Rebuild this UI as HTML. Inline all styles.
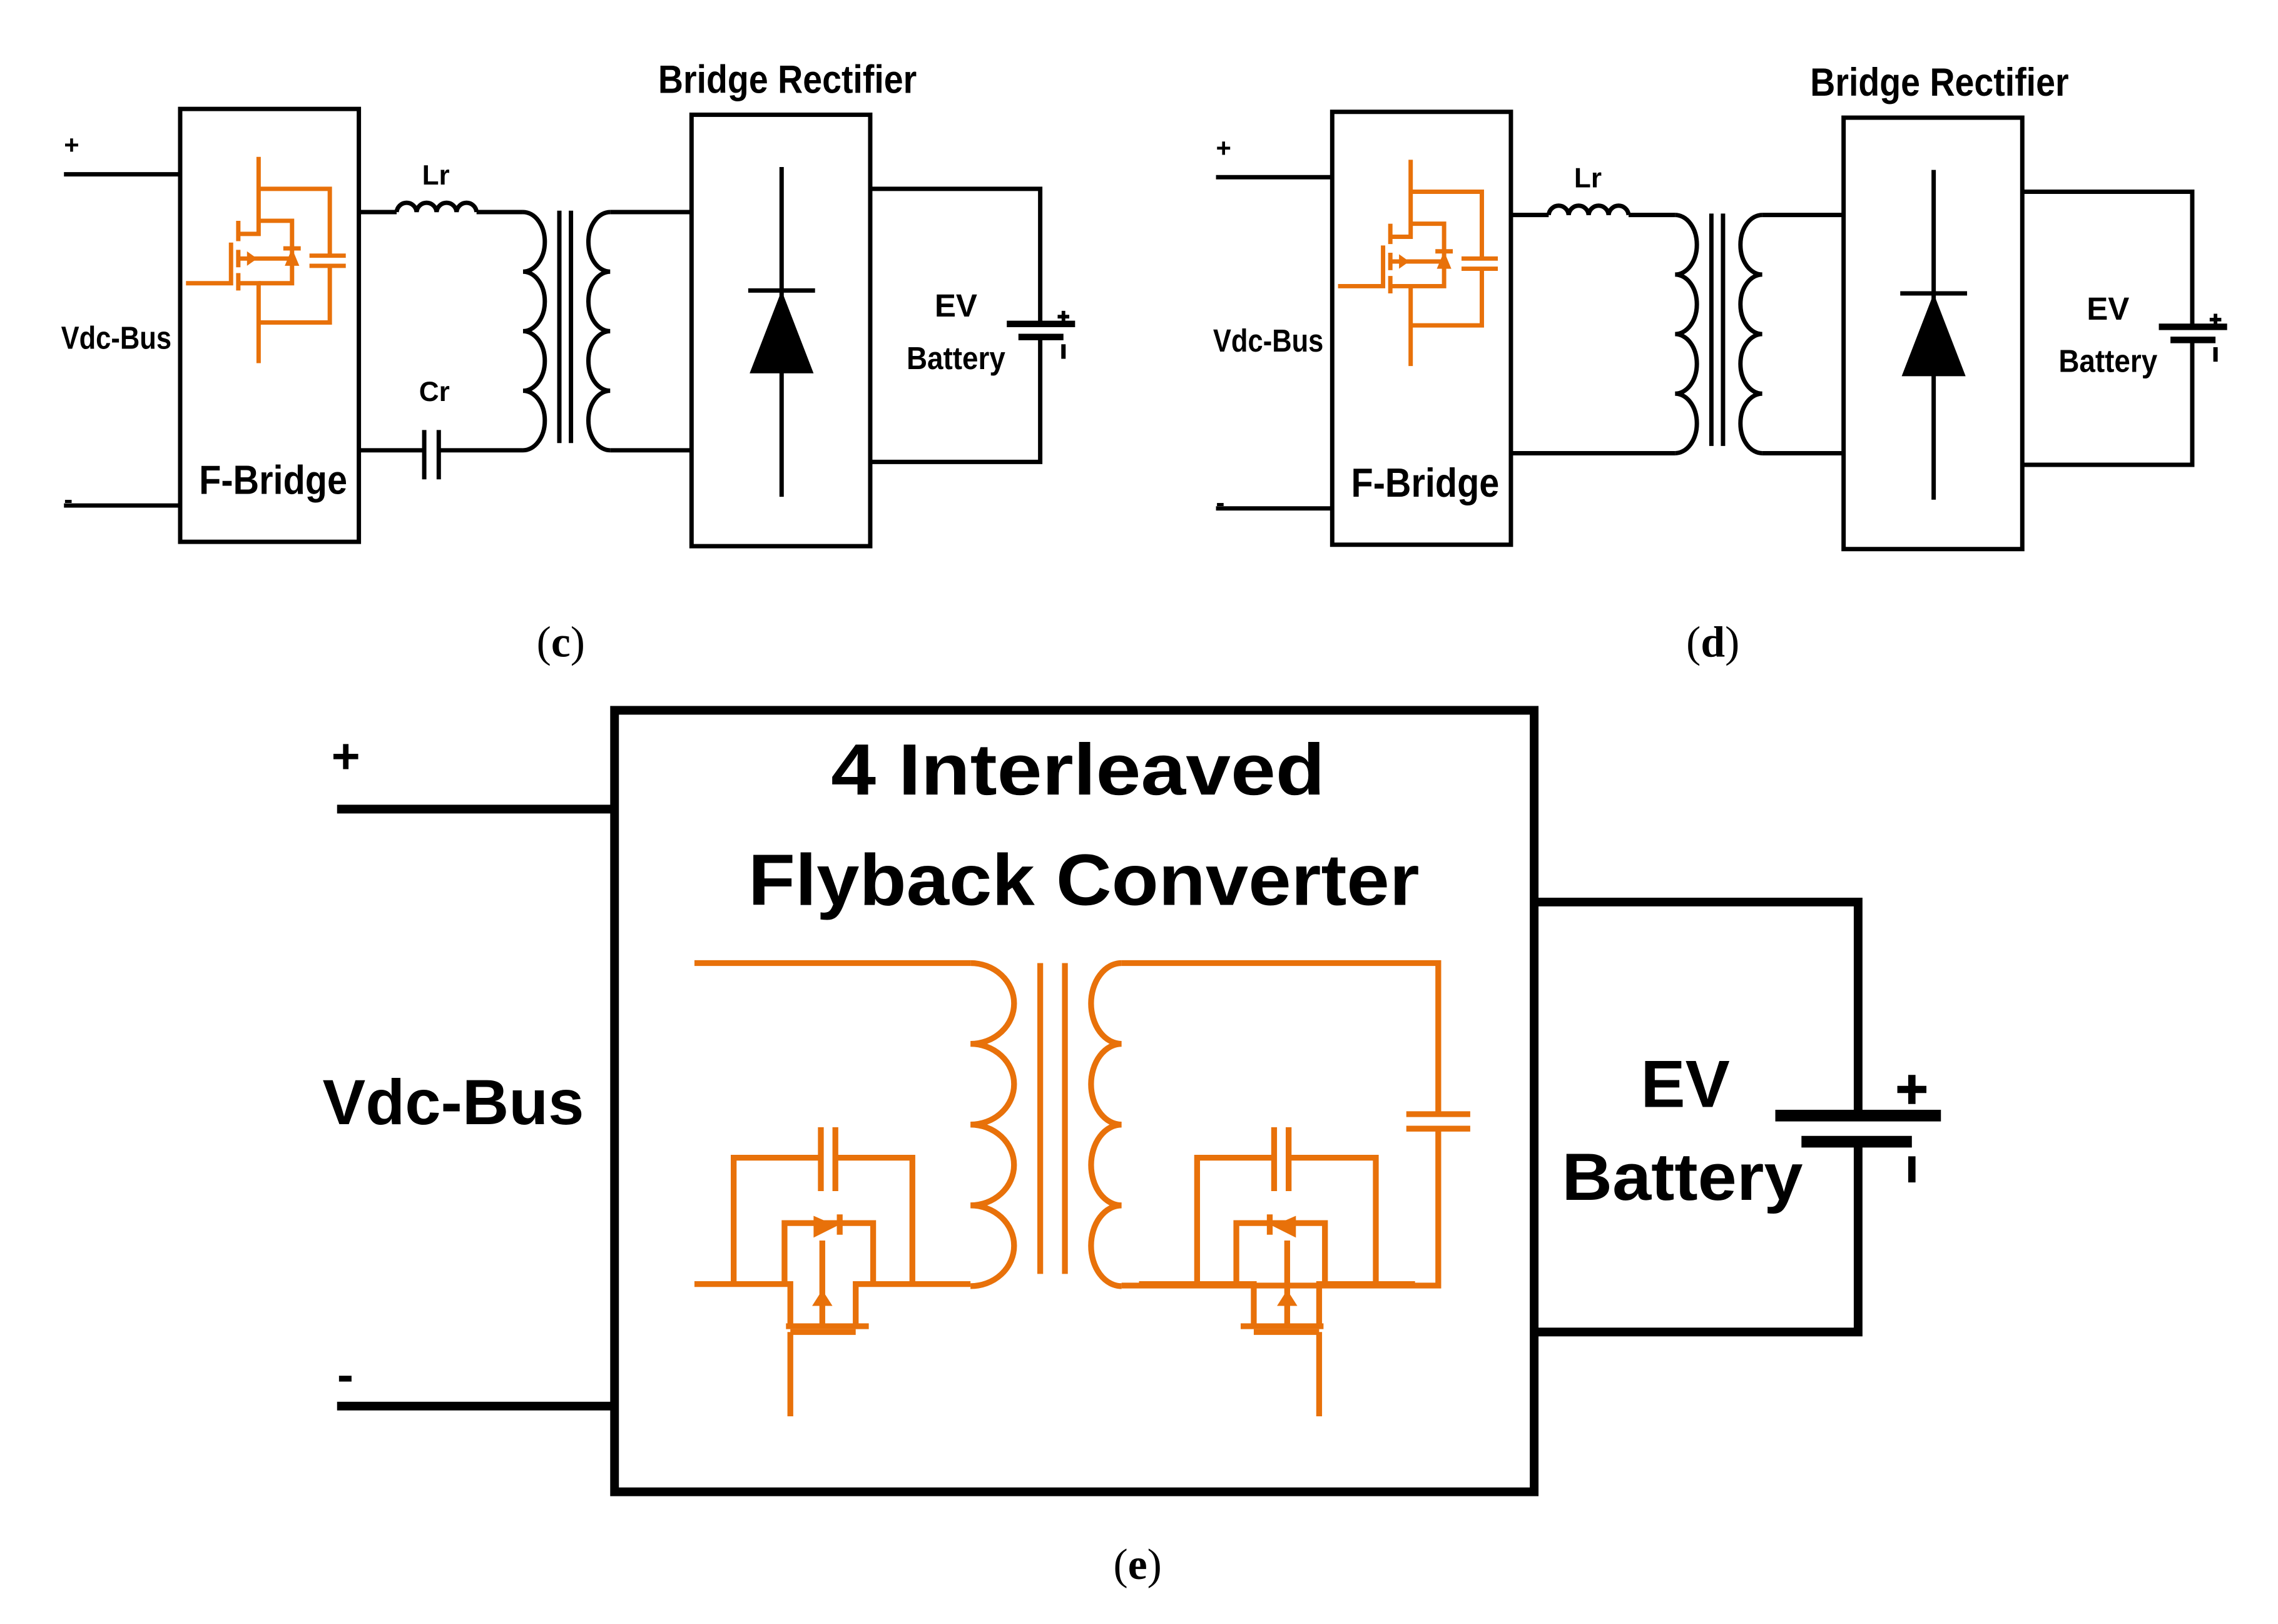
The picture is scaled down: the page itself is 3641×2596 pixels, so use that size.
<!DOCTYPE html>
<html><head><meta charset="utf-8"><style>
html,body{margin:0;padding:0;background:#fff;}
svg{display:block;}
.s{font-family:"Liberation Sans",sans-serif;}
.r{font-family:"Liberation Serif",serif;}
</style></head><body>
<svg width="3641" height="2596" viewBox="0 0 1568 1118" xmlns="http://www.w3.org/2000/svg">
<rect width="1568" height="1118" fill="#fff"/>
<defs>
<g id="common">
  <g fill="none" stroke="#000" stroke-width="3">
    <path d="M44 120 H124 M44 348 H124"/>
    <rect x="124" y="75" width="123" height="298"/>
    <path d="M247 146 H273 M328 146 H360"/>
    <path d="M273 146 a6.9 7 0 0 1 13.75 0 a6.9 7 0 0 1 13.75 0 a6.9 7 0 0 1 13.75 0 a6.9 7 0 0 1 13.75 0"/>
    <path d="M360 146 a15 20.5 0 0 1 0 41 a15 20.5 0 0 1 0 41 a15 20.5 0 0 1 0 41 a15 20.5 0 0 1 0 41"/>
    <path d="M385 145 V305 M393 145 V305"/>
    <path d="M420 146 H476 M420 310 H476"/>
    <path d="M420 146 a15 20.5 0 0 0 0 41 a15 20.5 0 0 0 0 41 a15 20.5 0 0 0 0 41 a15 20.5 0 0 0 0 41"/>
    <rect x="476" y="79" width="123" height="297"/>
    <path d="M538 115 V342"/>
    <path d="M515 200 H561"/>
    <path d="M599 130 H716 V223 M716 232 V318 H599"/>
  </g>
  <polygon points="538,200 516,257 560,257" fill="#000"/>
  <path d="M693 223 H740" stroke="#000" stroke-width="4.5"/>
  <path d="M701 232 H732" stroke="#000" stroke-width="4.5"/>
  <path d="M732 214 V222 M728 218 H736" stroke="#000" stroke-width="2.5"/>
  <path d="M732 237 V247" stroke="#000" stroke-width="3"/>
  <g fill="none" stroke="#E8710A" stroke-width="3">
    <path d="M178 108 V161 H165"/>
    <path d="M164 152 V166 M164 172 V184 M164 188 V200"/>
    <path d="M159 167 V195 H128"/>
    <path d="M165 195 H178 V250"/>
    <path d="M165 178 H201"/>
    <path d="M178 152 H201 V195 H178"/>
    <path d="M178 130 H227 V176 M227 183 V222 H178"/>
    <path d="M213 176 H238 M213 183 H238"/>
    <path d="M195 171 H207"/>
  </g>
  <polygon points="170,173 177,178 170,183" fill="#E8710A"/>
  <polygon points="201,171 196,183 206,183" fill="#E8710A"/>
</g>
<g id="mos" fill="none" stroke="#E8710A" stroke-width="4">
  <path d="M505 884 V797 H565 M575 797 H628 V884"/>
  <path d="M565 776 V820 M575 776 V820"/>
  <path d="M540 884 V842 H601 V884"/>
  <path d="M478 884 H544 V913 M589 913 V884 H668"/>
  <path d="M541 913 H598"/>
  <path d="M544 917 H589"/>
  <path d="M544 917 V975"/>
  <path d="M566 854 V913"/>
  <path d="M578 836 V850"/>
</g>
</defs>

<!-- (c) -->
<use href="#common"/>
<path d="M247 310 H292 M302 310 H360 M292 296 V330 M302 296 V330" stroke="#000" stroke-width="3" fill="none"/>
<g class="s" font-weight="bold">
<text x="44" y="106" font-size="18">+</text>
<text x="44" y="350" font-size="18">-</text>
<text x="80" y="240" font-size="22" text-anchor="middle" textLength="76" lengthAdjust="spacingAndGlyphs">Vdc-Bus</text>
<text x="188" y="340" font-size="28" text-anchor="middle" textLength="102" lengthAdjust="spacingAndGlyphs">F-Bridge</text>
<text x="300" y="127" font-size="19" text-anchor="middle">Lr</text>
<text x="299" y="276" font-size="19" text-anchor="middle">Cr</text>
<text x="542" y="64" font-size="27" text-anchor="middle" textLength="178" lengthAdjust="spacingAndGlyphs">Bridge Rectifier</text>
<text x="658" y="218" font-size="22" text-anchor="middle">EV</text>
<text x="658" y="254" font-size="22" text-anchor="middle" textLength="68" lengthAdjust="spacingAndGlyphs">Battery</text>
</g>

<!-- (d) -->
<g transform="translate(793,2)">
<use href="#common"/>
<path d="M247 310 H360" stroke="#000" stroke-width="3" fill="none"/>
<g class="s" font-weight="bold">
<text x="44" y="106" font-size="18">+</text>
<text x="44" y="350" font-size="18">-</text>
<text x="80" y="240" font-size="22" text-anchor="middle" textLength="76" lengthAdjust="spacingAndGlyphs">Vdc-Bus</text>
<text x="188" y="340" font-size="28" text-anchor="middle" textLength="102" lengthAdjust="spacingAndGlyphs">F-Bridge</text>
<text x="300" y="127" font-size="19" text-anchor="middle">Lr</text>
<text x="542" y="64" font-size="27" text-anchor="middle" textLength="178" lengthAdjust="spacingAndGlyphs">Bridge Rectifier</text>
<text x="658" y="218" font-size="22" text-anchor="middle">EV</text>
<text x="658" y="254" font-size="22" text-anchor="middle" textLength="68" lengthAdjust="spacingAndGlyphs">Battery</text>
</g>
</g>

<text class="r" x="386" y="452" font-size="30" text-anchor="middle">(<tspan font-weight="bold">c</tspan>)</text>
<text class="r" x="1179" y="452" font-size="30" text-anchor="middle">(<tspan font-weight="bold">d</tspan>)</text>

<!-- (e) -->
<g fill="none" stroke="#000" stroke-width="6">
  <rect x="423" y="489" width="633" height="538"/>
  <path d="M232 557 H423 M232 968 H423"/>
  <path d="M1056 621 H1279 V768 M1279 785 V917 H1056"/>
</g>
<path d="M1222 768 H1336" stroke="#000" stroke-width="8"/>
<path d="M1240 786 H1316" stroke="#000" stroke-width="8"/>
<path d="M1316 740 V760 M1306 750 H1326" stroke="#000" stroke-width="5"/>
<path d="M1316 796 V814" stroke="#000" stroke-width="5"/>
<g class="s" font-weight="bold">
<text x="238" y="532" font-size="34" text-anchor="middle">+</text>
<text x="232" y="958" font-size="34">-</text>
<text x="312" y="774" font-size="44" text-anchor="middle" textLength="180" lengthAdjust="spacingAndGlyphs">Vdc-Bus</text>
<text x="742" y="547" font-size="50" text-anchor="middle" textLength="340" lengthAdjust="spacingAndGlyphs">4 Interleaved</text>
<text x="746" y="623" font-size="50" text-anchor="middle" textLength="462" lengthAdjust="spacingAndGlyphs">Flyback Converter</text>
<text x="1160" y="762" font-size="46" text-anchor="middle">EV</text>
<text x="1158" y="826" font-size="46" text-anchor="middle" textLength="166" lengthAdjust="spacingAndGlyphs">Battery</text>
</g>

<g fill="none" stroke="#E8710A" stroke-width="4">
  <path d="M478 663 H668"/>
  <path d="M668 663 a30 27.8 0 0 1 0 55.6 a30 27.8 0 0 1 0 55.6 a30 27.8 0 0 1 0 55.6 a30 27.8 0 0 1 0 55.6"/>
  <path d="M716 663 V877 M733 663 V877"/>
  <path d="M772 663 a21 27.8 0 0 0 0 55.6 a21 27.8 0 0 0 0 55.6 a21 27.8 0 0 0 0 55.6 a21 27.8 0 0 0 0 55.6"/>
  <path d="M772 663 H990 V767 M990 777 V885 H772"/>
  <path d="M968 767 H1012 M968 777 H1012"/>
</g>
<use href="#mos"/>
<polygon points="560,837 560,852 576,844" fill="#E8710A"/>
<polygon points="566,888 559,899 573,899" fill="#E8710A"/>
<g transform="translate(1452,0) scale(-1,1)">
<use href="#mos"/>
<polygon points="560,837 560,852 576,844" fill="#E8710A"/>
<polygon points="566,888 559,899 573,899" fill="#E8710A"/>
</g>

<text class="r" x="783" y="1087" font-size="30" text-anchor="middle">(<tspan font-weight="bold">e</tspan>)</text>
</svg>
</body></html>
